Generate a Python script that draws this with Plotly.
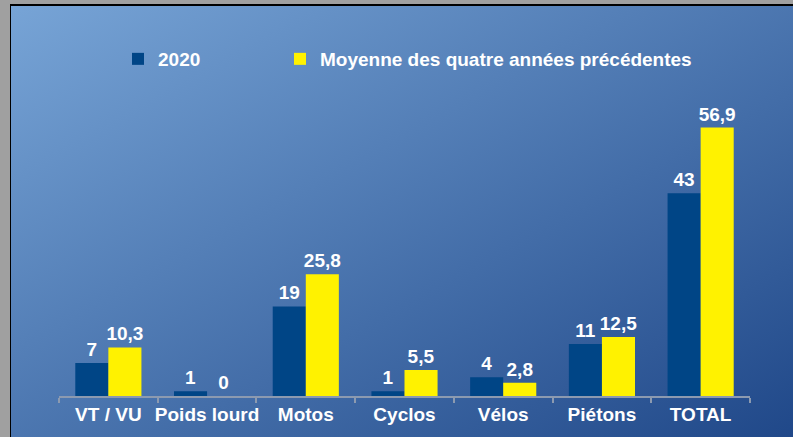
import base64
import plotly.graph_objects as go

categories = ["VT / VU", "Poids lourd", "Motos", "Cyclos", "Vélos", "Piétons", "TOTAL"]
values_2020 = [7, 1, 19, 1, 4, 11, 43]
values_moyenne = [10.3, 0, 25.8, 5.5, 2.8, 12.5, 56.9]
series_names = ["2020", "Moyenne des quatre années précédentes"]

W, H = 793, 437
L, R, T, B = 59, 43, 113, 41
pw, ph = W - L - R, H - T - B

svg = f'''<svg xmlns="http://www.w3.org/2000/svg" width="{W}" height="{H}" viewBox="0 0 {W} {H}" preserveAspectRatio="none">
<defs><linearGradient id="g" x1="0" y1="0" x2="1" y2="1">
<stop offset="0" stop-color="#77a4d6"/><stop offset="1" stop-color="#204889"/></linearGradient></defs>
<rect x="0" y="0" width="{W}" height="{H}" fill="#a0a0a0"/>
<rect x="10" y="4" width="{W-10}" height="{H-4}" fill="#000000"/>
<rect x="11" y="6" width="{W-11}" height="{H-6}" fill="url(#g)"/>
</svg>'''
src = "data:image/svg+xml;base64," + base64.b64encode(svg.encode()).decode()

FAM = "Liberation Sans, Arial, sans-serif"
font = dict(family=FAM, size=19, color="white", weight="bold")

fig = go.Figure()
fig.add_trace(go.Bar(x=categories, y=values_2020, name=series_names[0], legend="legend",
                     marker=dict(color="#004586", line=dict(width=0)),
                     texttemplate="%{y}", textposition="outside", constraintext="none",
                     textfont=font, cliponaxis=False))
fig.add_trace(go.Bar(x=categories, y=values_moyenne, name=series_names[1], legend="legend2",
                     marker=dict(color="#fff200", line=dict(width=0)),
                     texttemplate="%{y}", textposition="outside", constraintext="none",
                     textfont=font, cliponaxis=False))

legend_common = dict(orientation="h", xanchor="left", yanchor="middle",
                     y=(396 - 59) / ph, bgcolor="rgba(0,0,0,0)", font=font,
                     itemwidth=30)

fig.update_layout(
    width=W, height=H,
    margin=dict(l=L, r=R, t=T, b=B, pad=0, autoexpand=False),
    paper_bgcolor="#a0a0a0",
    plot_bgcolor="rgba(0,0,0,0)",
    separators=", ",
    barmode="group", bargap=0.33, bargroupgap=0,
    font=font,
    showlegend=True,
    legend=dict(x=(118 - L) / pw, **legend_common),
    legend2=dict(x=(280 - L) / pw, **legend_common),
    images=[dict(source=src, xref="paper", yref="paper",
                 x=-L / pw, y=(H - B) / ph, xanchor="left", yanchor="top",
                 sizex=W / pw, sizey=H / ph, sizing="stretch", layer="below")],
    xaxis=dict(showline=True, linecolor="#8c9ab0", linewidth=2, automargin=False,
               ticks="outside", tickson="boundaries", ticklen=5, tickcolor="#8c9ab0", tickwidth=2,
               tickangle=0, tickfont=font,
               showgrid=False, zeroline=False),
    yaxis=dict(range=[0, 60], visible=False, showgrid=False, zeroline=False, automargin=False),
)

fig.write_html("out.html", config={"displayModeBar": False},
               post_script="document.body.style.margin='0';document.body.style.overflow='hidden';")
